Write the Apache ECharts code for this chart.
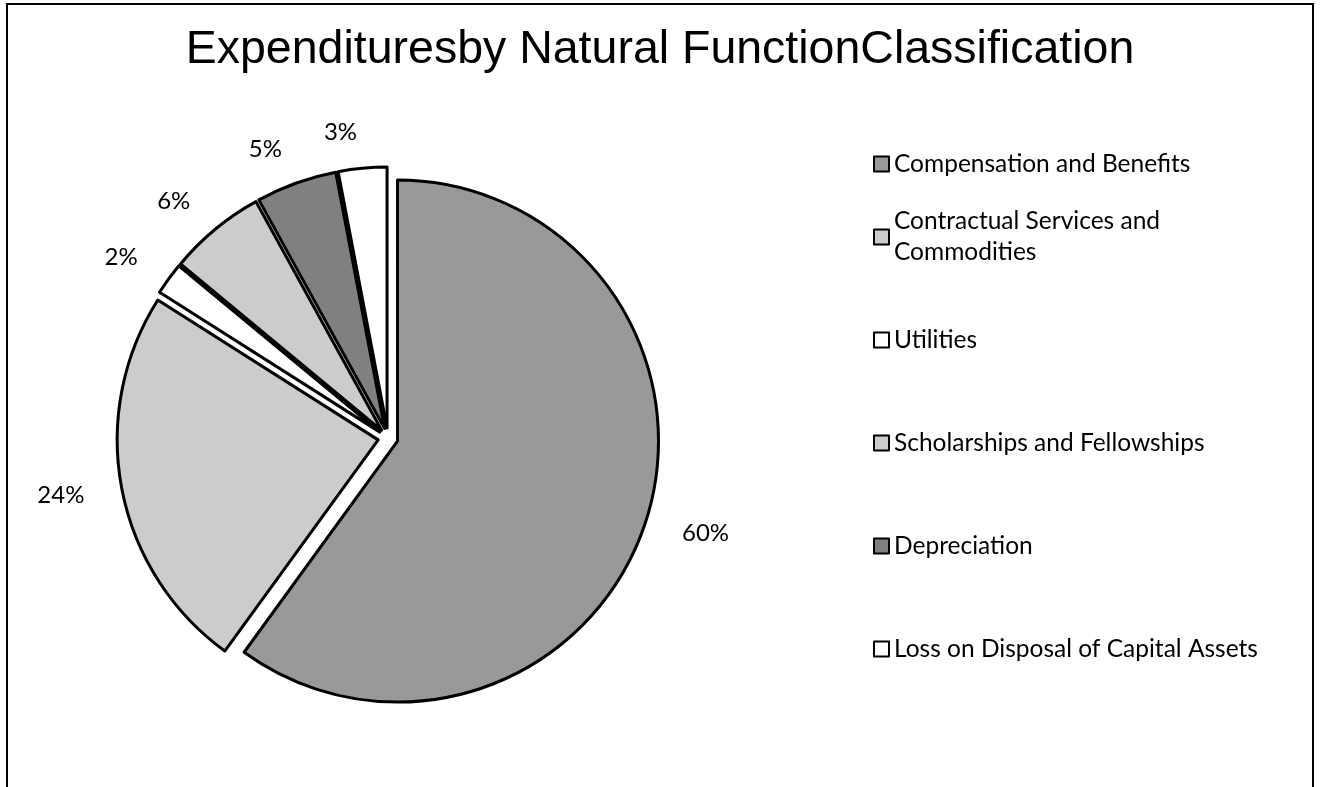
<!DOCTYPE html>
<html><head><meta charset="utf-8">
<script src="https://cdn.jsdelivr.net/npm/echarts@6/dist/echarts.min.js"></script>
<style>html,body{margin:0;padding:0;background:#fff}#c{width:1320px;height:787px}</style>
</head><body><div id="c"></div>
<script>
const titleText = 'Expendituresby Natural FunctionClassification';
const categories = ['Compensation and Benefits', 'Contractual Services and Commodities', 'Utilities', 'Scholarships and Fellowships', 'Depreciation', 'Loss on Disposal of Capital Assets'];
const values = [60, 24, 2, 6, 5, 3];
const colors = ['#999999', '#cccccc', '#ffffff', '#cccccc', '#808080', '#ffffff'];
const legendGroupA = [0, 1];
const legendGroupB = [2, 3, 4, 5];

const chart = echarts.init(document.getElementById('c'), null, {renderer: 'canvas'});
const legendText = {fontFamily: 'Lato', fontSize: 24.5, color: '#000', lineHeight: 31};
const wrapName = n => n === 'Contractual Services and Commodities' ? 'Contractual Services and\nCommodities' : n;

chart.setOption({
  animation: false,
  backgroundColor: '#fff',
  title: {
    text: titleText, left: 'center', top: 22,
    textStyle: {fontFamily: 'Liberation Sans, Arial', fontSize: 46.5, fontWeight: 'normal', color: '#000'}
  },
  graphic: [{
    type: 'rect', silent: true, z: -1,
    shape: {x: 7, y: 4, width: 1306, height: 900},
    style: {fill: 'none', stroke: '#000', lineWidth: 2}
  }],
  legend: [
    {
      orient: 'vertical', left: 873, top: 148.5, padding: 0, itemGap: 11,
      itemWidth: 15, itemHeight: 15, icon: 'rect', selectedMode: false,
      formatter: wrapName, textStyle: legendText,
      data: legendGroupA.map(i => i === 1 ? {name: categories[i], textStyle: {padding: [31, 0, 0, 0]}} : {name: categories[i]})
    },
    {
      orient: 'vertical', left: 873, top: 324.5, padding: 0, itemGap: 72,
      itemWidth: 15, itemHeight: 15, icon: 'rect', selectedMode: false,
      formatter: wrapName, textStyle: legendText,
      data: legendGroupB.map(i => ({name: categories[i]}))
    }
  ],
  series: [{
    type: 'pie',
    center: [388, 438],
    radius: [0, 261],
    startAngle: 90,
    clockwise: true,
    avoidLabelOverlap: false,
    selectedMode: 'multiple',
    selectedOffset: 10,
    percentPrecision: 0,
    itemStyle: {borderColor: '#000', borderWidth: 3},
    label: {show: true, position: 'outside', formatter: '{d}%', fontFamily: 'Lato', fontSize: 24, color: '#000', distanceToLabelLine: 2},
    labelLine: {show: false, length: 36, length2: 0},
    emphasis: {scale: false, disabled: true},
    data: categories.map((n, i) => ({name: n, value: values[i], selected: true, itemStyle: {color: colors[i]}}))
  }]
});
</script></body></html>
